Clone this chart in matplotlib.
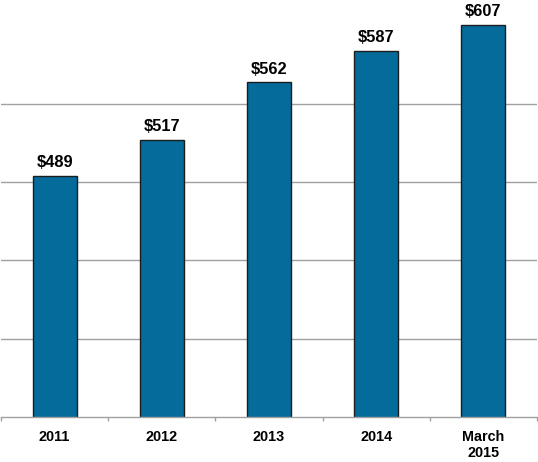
import matplotlib
matplotlib.use("Agg")
import matplotlib.pyplot as plt
import numpy as np

categories = ["2011", "2012", "2013", "2014", "March\n2015"]
values = [489, 517, 562, 587, 607]
value_labels = ["$489", "$517", "$562", "$587", "$607"]

plt.rcParams['font.family'] = ['Liberation Sans', 'DejaVu Sans']

y_min, step = 300, 61.35
y_max = 608
px_per_unit = 1.278
ax_h = (y_max - y_min) * px_per_unit

fig = plt.figure(figsize=(5.38, 4.62), dpi=100)
ax = fig.add_axes([1/538, 44.7/462, 536/538, ax_h/462])

x = np.arange(len(categories))
ax.bar(x, values, width=0.41, color="#046b9b", edgecolor="#1c1c1c",
       linewidth=1.0, zorder=3)

for xi, v, lab in zip(x, values, value_labels):
    ax.annotate(lab, (xi, v), xytext=(0, 4), textcoords="offset points",
                ha="center", va="bottom", fontsize=11.8, fontweight="bold",
                color="black", annotation_clip=False)

ax.set_xlim(-0.5, len(categories) - 0.5)
ax.set_ylim(y_min, y_max)

for k in range(1, 5):
    ax.axhline(y_min + step * k, color="#a0a0a0", linewidth=1.0, zorder=1)

ax.set_yticks([])
ax.set_xticks(x)
ax.set_xticklabels(categories, fontsize=10.4, fontweight="bold")
ax.set_xticks(np.arange(-0.5, len(categories)), minor=True)
ax.tick_params(axis="x", which="major", length=0, pad=9.2)
ax.tick_params(axis="x", which="minor", length=4/1.389, width=1.0, color="#a0a0a0")
for lab in ax.get_xticklabels():
    lab.set_verticalalignment("top")
    lab.set_linespacing(1.2)

for s in ["top", "right", "left"]:
    ax.spines[s].set_visible(False)
ax.spines["bottom"].set_color("#a0a0a0")
ax.spines["bottom"].set_linewidth(1.0)
ax.spines["bottom"].set_zorder(4)

fig.savefig("out.png", dpi=100)
